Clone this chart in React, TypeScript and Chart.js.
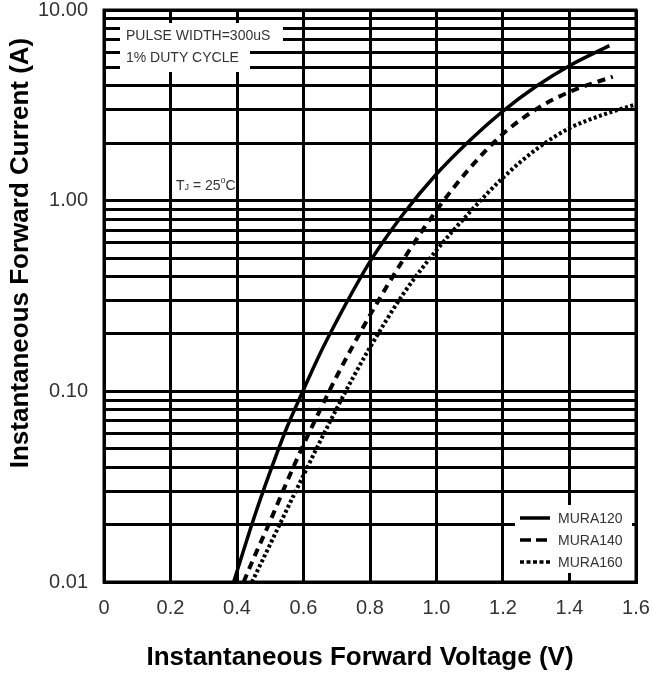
import { useEffect, useRef } from "react";
import { Chart, registerables } from "chart.js";

Chart.register(...registerables);

// ---- Data ----
const seriesNames = ["MURA120", "MURA140", "MURA160"];

const voltage120 = [0.39, 0.45, 0.5, 0.55, 0.6, 0.65, 0.7, 0.75, 0.8, 0.9, 1.0, 1.1, 1.2, 1.3, 1.4, 1.52];
const current120 = [0.01, 0.0214, 0.038, 0.0646, 0.102, 0.158, 0.234, 0.339, 0.479, 0.851, 1.38, 2.07, 2.95, 3.98, 5.1, 6.5];

const voltage140 = [0.42, 0.45, 0.5, 0.55, 0.6, 0.65, 0.7, 0.8, 0.9, 1.0, 1.1, 1.2, 1.3, 1.4, 1.53];
const current140 = [0.01, 0.0133, 0.0209, 0.0335, 0.0525, 0.08, 0.12, 0.251, 0.49, 0.89, 1.48, 2.24, 3.02, 3.72, 4.47];

const voltage160 = [0.445, 0.5, 0.55, 0.6, 0.65, 0.7, 0.75, 0.8, 0.9, 1.0, 1.1, 1.2, 1.3, 1.4, 1.5, 1.6];
const current160 = [0.01, 0.0158, 0.024, 0.0363, 0.0547, 0.0813, 0.119, 0.17, 0.324, 0.55, 0.87, 1.32, 1.86, 2.4, 2.82, 3.2];

const xMin = 0;
const xMax = 1.6;
const xStep = 0.2;

const yMajorValues = [0.01, 0.1, 1, 10];
const yMajorLabels = ["0.01", "0.10", "1.00", "10.00"];
const yMinorMultipliers = [2, 3, 4, 5, 6, 7, 8, 9];

const xTitle = "Instantaneous Forward Voltage (V)";
const yTitle = "Instantaneous Forward Current (A)";
const noteLine1 = "PULSE WIDTH=300uS";
const noteLine2 = "1% DUTY CYCLE";

const FONT = '"Liberation Sans", Arial, Helvetica, sans-serif';

const dashStyles: number[][] = [[], [8, 6], [3, 2.5]];
const legendDash: number[][] = [[], [11, 5], [4, 2.5]];
const lineWidths = [3.5, 4, 4];

function buildYTicks() {
  const vals: number[] = [];
  for (let d = 0; d < yMajorValues.length; d++) {
    vals.push(yMajorValues[d]);
    if (d < yMajorValues.length - 1) {
      for (const m of yMinorMultipliers) vals.push(yMajorValues[d] * m);
    }
  }
  return vals;
}

const decorPlugin = {
  id: "decor",
  beforeDatasetsDraw(chart: any) {
    const { ctx, chartArea } = chart;
    const { left, top, right, bottom } = chartArea;
    ctx.save();
    // frame
    ctx.strokeStyle = "#000";
    ctx.lineWidth = 3;
    ctx.strokeRect(left, top, right - left, bottom - top);
    // white boxes for notes
    ctx.fillStyle = "#fff";
    ctx.fillRect(left + 16, top + 13, 163, 24);
    ctx.fillRect(left + 16, top + 37, 130, 25);
    // legend box
    ctx.fillRect(right - 121, bottom - 77, 117, 68);
    ctx.restore();
  },
  afterDraw(chart: any) {
    const { ctx, chartArea, scales } = chart;
    const { left, top, right, bottom } = chartArea;
    ctx.save();
    // notes
    ctx.fillStyle = "#333";
    ctx.font = `14px ${FONT}`;
    ctx.textAlign = "left";
    ctx.textBaseline = "middle";
    ctx.fillText(noteLine1, left + 22, top + 26);
    ctx.fillText(noteLine2, left + 22, top + 48);

    // Tj = 25°C
    const yOne = scales.y.getPixelForValue(1);
    let tx = left + 72;
    const ty = yOne - 15;
    ctx.font = `14px ${FONT}`;
    ctx.fillText("T", tx, ty);
    tx += ctx.measureText("T").width;
    ctx.font = `9px ${FONT}`;
    ctx.fillText("J", tx, ty + 2);
    tx += ctx.measureText("J").width;
    ctx.font = `14px ${FONT}`;
    ctx.fillText(" = 25", tx, ty);
    tx += ctx.measureText(" = 25").width;
    ctx.font = `9px ${FONT}`;
    ctx.fillText("o", tx, ty - 5);
    tx += ctx.measureText("o").width;
    ctx.font = `14px ${FONT}`;
    ctx.fillText("C", tx, ty);

    // legend
    const lx = right - 116;
    const rows = [bottom - 64, bottom - 42, bottom - 20];
    chart.data.datasets.forEach((ds: any, i: number) => {
      ctx.strokeStyle = "#000";
      ctx.lineWidth = 3.5;
      ctx.setLineDash(legendDash[i]);
      ctx.beginPath();
      ctx.moveTo(lx, rows[i]);
      ctx.lineTo(lx + 30, rows[i]);
      ctx.stroke();
      ctx.setLineDash([]);
      ctx.fillStyle = "#333";
      ctx.font = `14px ${FONT}`;
      ctx.textAlign = "left";
      ctx.textBaseline = "middle";
      ctx.fillText(ds.label, lx + 38, rows[i] + 1);
    });

    // axis titles
    ctx.fillStyle = "#000";
    ctx.font = `bold 26px ${FONT}`;
    ctx.textAlign = "center";
    ctx.textBaseline = "alphabetic";
    ctx.fillText(xTitle, 360, 665);

    ctx.translate(28, 253);
    ctx.rotate(-Math.PI / 2);
    ctx.fillText(yTitle, 0, 0);
    ctx.restore();
  },
};

export default function App() {
  const canvasRef = useRef<HTMLCanvasElement | null>(null);

  useEffect(() => {
    if (!canvasRef.current) return;
    const voltages = [voltage120, voltage140, voltage160];
    const currents = [current120, current140, current160];
    const datasets = seriesNames.map((name, i) => ({
      label: name,
      data: voltages[i].map((v, j) => ({ x: v, y: currents[i][j] })),
      borderColor: "#000",
      backgroundColor: "#000",
      borderWidth: lineWidths[i],
      borderDash: dashStyles[i],
      borderCapStyle: "butt",
      pointRadius: 0,
      cubicInterpolationMode: "monotone",
      fill: false,
    }));
    const yTicks = buildYTicks();

    const chart = new Chart(canvasRef.current, {
      type: "line",
      data: { datasets } as any,
      plugins: [decorPlugin],
      options: {
        animation: false,
        responsive: true,
        maintainAspectRatio: false,
        layout: { padding: { left: 0, top: 10, right: 16, bottom: 0 } },
        plugins: {
          legend: { display: false },
          tooltip: { enabled: false },
        },
        scales: {
          x: {
            type: "linear",
            min: xMin,
            max: xMax,
            afterFit(scale: any) {
              scale.height = 93;
              scale.paddingLeft = 0;
              scale.paddingRight = 0;
            },
            ticks: {
              stepSize: xStep,
              padding: 14,
              color: "#333",
              font: { family: FONT, size: 20 },
              maxRotation: 0,
              callback: (v: any) => (Math.abs(Number(v)) < 1e-9 ? "0" : Number(v).toFixed(1)),
            },
            grid: { color: "#000", lineWidth: 3, drawTicks: false },
            border: { display: true, color: "#000", width: 3 },
          },
          y: {
            type: "logarithmic",
            min: yMajorValues[0],
            max: yMajorValues[yMajorValues.length - 1],
            afterFit(scale: any) {
              scale.width = 104;
              scale.paddingTop = 0;
              scale.paddingBottom = 0;
            },
            afterBuildTicks(scale: any) {
              scale.ticks = yTicks.map((v) => ({ value: v }));
            },
            ticks: {
              padding: 16,
              color: "#333",
              font: { family: FONT, size: 20 },
              autoSkip: false,
              callback: (v: any) => {
                const val = Number(v);
                const idx = yMajorValues.findIndex((m) => Math.abs(val - m) / m < 1e-6);
                return idx >= 0 ? yMajorLabels[idx] : "";
              },
            },
            grid: { color: "#000", lineWidth: 3, drawTicks: false },
            border: { display: true, color: "#000", width: 3 },
          },
        },
      } as any,
    });
    return () => chart.destroy();
  }, []);

  return (
    <div style={{ position: "absolute", left: 0, top: 0, width: 652, height: 675, background: "#fff" }}>
      <canvas ref={canvasRef} />
    </div>
  );
}
